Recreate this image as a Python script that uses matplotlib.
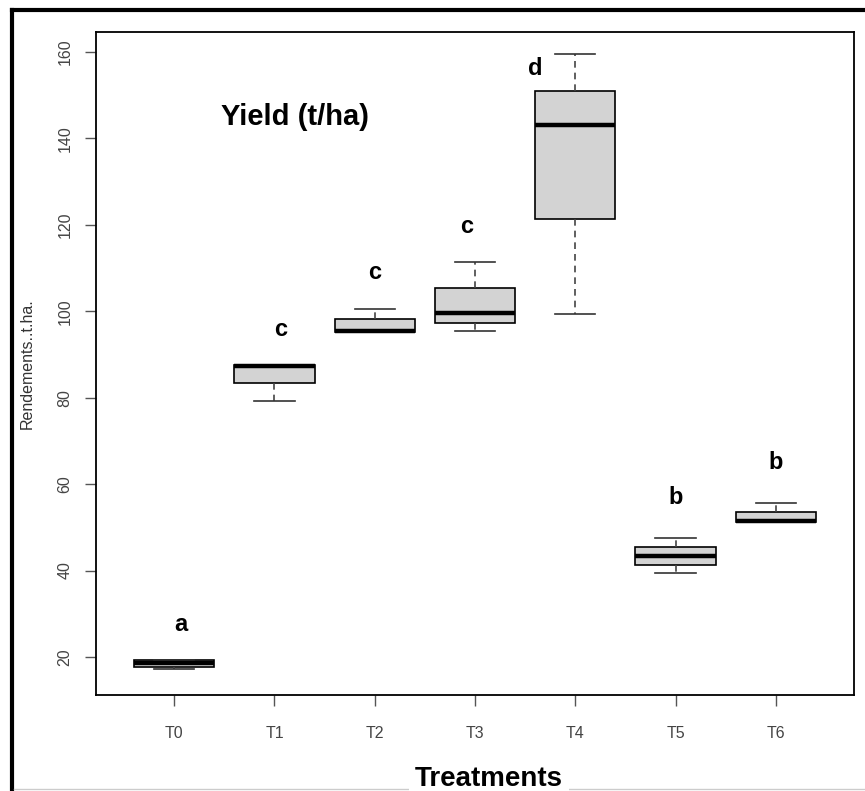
import matplotlib
matplotlib.use("Agg")
import matplotlib.pyplot as plt
from matplotlib.lines import Line2D

plt.rcParams['font.family'] = ['Liberation Sans', 'DejaVu Sans']

# ---- data ----
treatments = ["T0", "T1", "T2", "T3", "T4", "T5", "T6"]
q1     = [17.6, 83.4, 95.2, 97.3, 121.4, 41.3, 51.2]
median = [18.7, 87.3, 95.4, 99.6, 143.1, 43.4, 51.5]
q3     = [19.2, 87.6, 98.2, 105.4, 151.0, 45.5, 53.6]
whislo = [17.3, 79.2, 95.2, 95.4, 99.4, 39.4, 51.2]
whishi = [19.4, 87.6, 100.5, 111.4, 159.5, 47.5, 55.6]

letters   = ["a", "c", "c", "c", "d", "b", "b"]
letter_x  = [1.07, 2.06, 3.0, 3.92, 4.6, 6.0, 7.0]
letter_y  = [25.9, 94.2, 107.4, 118.0, 154.7, 55.4, 63.5]

yticks = [20, 40, 60, 80, 100, 120, 140, 160]

# ---- figure ----
W, H = 865, 791
fig = plt.figure(figsize=(W / 100, H / 100), dpi=100)
ax = fig.add_axes([96 / W, 1 - 695 / H, (854 - 96) / W, (695 - 32) / H])

stats = []
for i, name in enumerate(treatments):
    stats.append(dict(label=name, q1=q1[i], med=median[i], q3=q3[i],
                      whislo=whislo[i], whishi=whishi[i], fliers=[]))

positions = list(range(1, len(treatments) + 1))
ax.bxp(stats, positions=positions, widths=0.8, capwidths=0.4,
       patch_artist=True, showfliers=False,
       boxprops=dict(facecolor='#d3d3d3', edgecolor='black', linewidth=1.2),
       medianprops=dict(color='black', linewidth=3.2, solid_capstyle='butt'),
       whiskerprops=dict(color='#444444', linestyle=(0, (4, 3)), linewidth=1.2),
       capprops=dict(color='#333333', linewidth=1.2))

ax.set_xlim(0.22, 7.78)
ax.set_ylim(11.2, 164.6)
ax.set_xticks(positions)
ax.set_xticklabels(treatments)
ax.set_yticks(yticks)
ax.set_yticklabels([str(v) for v in yticks], rotation=90, va='center')
ax.tick_params(axis='both', length=8, width=1, color='#555555',
               labelcolor='#444444', labelsize=11.5)
ax.tick_params(axis='x', pad=14)
ax.tick_params(axis='y', pad=9)
for s in ax.spines.values():
    s.set_linewidth(1.3)
    s.set_color('black')

ax.set_ylabel("Rendements..t.ha.", fontsize=11.5, color='#333333', labelpad=16)

for x, y, t in zip(letter_x, letter_y, letters):
    ax.text(x, y, t, ha='center', va='baseline', fontsize=17,
            fontweight='bold', color='black')

ax.text(2.2, 143.0, "Yield (t/ha)", ha='center', va='baseline', fontsize=21,
        fontweight='bold', color='black')

# outer frame decorations
fig.add_artist(Line2D([12 / W, 12 / W], [0, 1 - 10 / H], transform=fig.transFigure,
                      color='black', linewidth=3))
fig.add_artist(Line2D([12 / W, 1], [1 - 10 / H, 1 - 10 / H], transform=fig.transFigure,
                      color='black', linewidth=3))
fig.add_artist(Line2D([14 / W, 1], [1 - 789 / H, 1 - 789 / H], transform=fig.transFigure,
                      color='#cccccc', linewidth=1))

fig.text(489 / W, 1 - 786 / H, "Treatments", ha='center', va='baseline',
         fontsize=20, fontweight='bold', color='black',
         bbox=dict(facecolor='white', edgecolor='none', pad=4))

fig.savefig("out.png", dpi=100)
